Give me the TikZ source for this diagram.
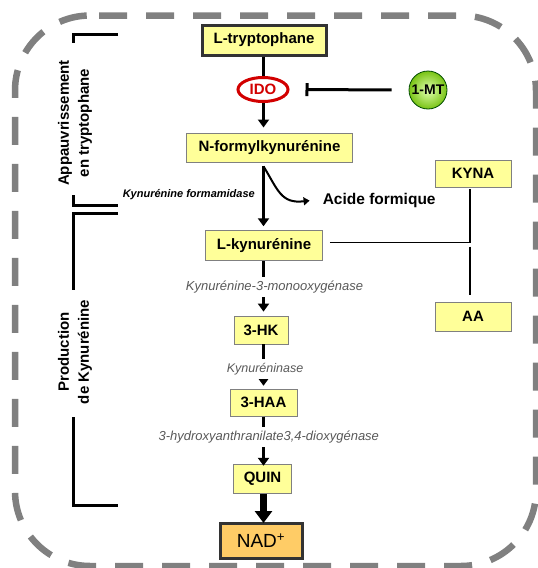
\documentclass[tikz,border=0pt]{standalone}
\usepackage{fontspec}
\setmainfont{Liberation Sans}
\usetikzlibrary{arrows.meta,shapes.geometric,positioning}

\definecolor{boxyellow}{RGB}{255,255,153}
\definecolor{nadorange}{RGB}{255,204,102}
\definecolor{framegray}{RGB}{128,128,128}
\definecolor{idored}{RGB}{210,0,0}
\definecolor{mtlight}{RGB}{225,255,175}
\definecolor{mtgreen}{RGB}{120,195,20}

\begin{document}
\begin{tikzpicture}[x=1pt, y=-1pt,
    mol/.style={draw=gray, line width=0.8pt, fill=boxyellow, inner sep=0pt,
        font=\fontsize{15}{18}\selectfont\bfseries},
    keymol/.style={mol, draw=black!80, line width=3pt},
    enz/.style={fill=white, inner xsep=1pt, inner ysep=4pt, text=black!65,
        font=\fontsize{13}{15}\selectfont\itshape},
    flow/.style={line width=3pt, -{Triangle[width=11pt,length=8pt]}},
    link/.style={line width=1.5pt},
    bracket/.style={line width=3pt},
    side/.style={rotate=90, align=center, font=\fontsize{15}{20}\selectfont\bfseries}]
\useasboundingbox (0,0) rectangle (538,568);

% Frame
\draw[framegray, line width=6.5pt, dash pattern=on 28pt off 19pt, rounded corners=75pt]
    (99,15.5) -- (536,15.5) -- (536,566) -- (15,566) -- (15,15.5) -- (99,15.5);

% Brackets
\draw[bracket] (118,34.5) -| (73.5,43);
\draw[bracket] (73.5,195) |- (118,205.5);
\draw[bracket] (118,213.5) -| (73.5,290);
\draw[bracket] (73.5,417) |- (118,505.5);
\node[side] (appauv) at (75,123) {Appauvrissement\\en tryptophane};
\node[side] (prod) at (75,352) {Production\\de Kynurénine};

% Metabolites
\coordinate (col) at (263.5,0);
\node[keymol, minimum width=124pt, minimum height=30pt] (trp) at (264,40) {L-tryptophane};
\node[ellipse, draw=idored, line width=3pt, fill=white, text=idored, inner sep=0pt,
    minimum width=50pt, minimum height=24pt, font=\fontsize{15}{18}\selectfont\bfseries]
    (ido) at (263,89.5) {IDO};
\node[circle, draw=green!30!black, line width=0.8pt, inner color=mtlight, outer color=mtgreen,
    minimum size=38pt, inner sep=0pt, font=\fontsize{14}{16}\selectfont\bfseries]
    (onemt) at (428,90) {1-MT};
\node[mol, minimum width=166pt, minimum height=29pt] (nform) at (269.5,147.4) {N-formylkynurénine};
\node[mol, minimum width=117pt, minimum height=30pt] (lkyn) at (264,245.7) {L-kynurénine};
\node[mol, minimum width=76pt, minimum height=27pt] (kyna) at (473,173.5) {KYNA};
\node[mol, minimum width=76pt, minimum height=29pt] (aa) at (473,316.5) {AA};
\node[mol, minimum width=54pt, minimum height=28pt] (hk) at (261,330) {3-HK};
\node[mol, minimum width=67pt, minimum height=27pt] (haa) at (263.5,402.7) {3-HAA};
\node[mol, minimum width=58pt, minimum height=29pt] (quin) at (262.5,478.7) {QUIN};
\node[keymol, fill=nadorange, minimum width=82pt, minimum height=35pt, font=\fontsize{19}{22}\selectfont]
    (nad) at (261,541) {NAD\textsuperscript{+}};
\node[anchor=west, inner sep=0pt, font=\fontsize{15.5}{18}\selectfont\bfseries] (acide) at (322.6,200.6) {Acide formique};

% Pathway
\draw[line width=3pt] (trp.south -| col) -- (ido.north -| col);
\draw[flow, shorten >=5pt] (ido.south -| col) -- (nform.north -| col);
\draw[line width=3pt, -{Bar[width=13pt]}, shorten <=17pt, shorten >=16pt] (onemt.west) -- (ido.east);
\draw[flow, shorten <=4pt, shorten >=4pt] (nform.south -| col) -- (lkyn.north -| col);
\draw[line width=2pt, -{Triangle[width=8pt,length=6pt]}] ([yshift=-4pt]nform.south -| col)
    .. controls (278,190) and (281,204) .. ([xshift=-13pt]acide.west);
\draw[link] ([xshift=7pt,yshift=3pt]lkyn.east) -| ([xshift=-3pt,yshift=-2pt]kyna.south);
\coordinate (aajoin) at (470,246.7);
\draw[link] (aajoin) -- ([xshift=-3pt,yshift=6.5pt]aa.north);
\draw[flow, shorten >=4pt] (lkyn.south -| col) -- (hk.north -| col);
\draw[flow, shorten >=3pt] (hk.south -| col) -- (haa.north -| col);
\draw[flow, shorten >=-2pt] (haa.south -| col) -- (quin.north -| col);
\draw[line width=6.5pt, -{Triangle[width=17pt,length=12pt]}, shorten >=-1pt] (quin.south -| col) -- (nad.north -| col);

% Enzymes
\node[anchor=east, inner sep=0pt, font=\fontsize{11}{13}\selectfont\bfseries\itshape] (kfa) at (255,195) {Kynurénine formamidase};
\node[enz] (kmo) at (274.5,287) {Kynurénine-3-monooxygénase};
\node[enz, font=\fontsize{12.5}{15}\selectfont\itshape] (kynase) at (265,368.7) {Kynuréninase};
\node[enz] (haao) at (268.8,437) {3-hydroxyanthranilate3,4-dioxygénase};
\end{tikzpicture}
\end{document}
